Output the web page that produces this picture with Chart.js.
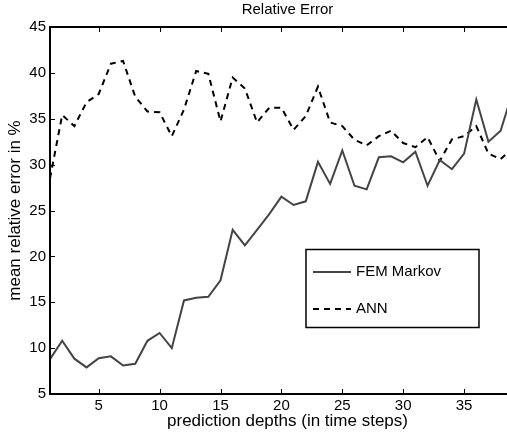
<!DOCTYPE html>
<html>
<head>
<meta charset="utf-8">
<title>Relative Error</title>
<script src="https://cdn.jsdelivr.net/npm/chart.js@4/dist/chart.umd.min.js"></script>
<style>
  html, body { margin: 0; padding: 0; background: #fff; overflow: hidden; }
  canvas { display: block; }
</style>
</head>
<body>
<canvas id="errorChart" width="540" height="438"></canvas>
<script>
'use strict';

// prediction depth (time steps) and mean relative error in %
var steps = [1, 2, 3, 4, 5, 6, 7, 8, 9, 10, 11, 12, 13, 14, 15, 16, 17, 18, 19, 20,
   21, 22, 23, 24, 25, 26, 27, 28, 29, 30, 31, 32, 33, 34, 35, 36, 37, 38, 39];
var femMarkov = [8.8, 10.8, 8.85, 7.9, 8.9, 9.1, 8.1, 8.3, 10.8, 11.65, 10.0, 15.2, 15.5, 15.6, 17.4, 22.9, 21.2, 22.9, 24.6, 26.5,
   25.6, 26.0, 30.3, 27.9, 31.55, 27.7, 27.3, 30.8, 30.9, 30.25, 31.4, 27.7, 30.5, 29.5, 31.2, 37.1, 32.5, 33.7, 38.0];
var ann = [28.5, 35.4, 34.2, 36.8, 37.7, 41.0, 41.3, 37.4, 35.8, 35.7, 33.1, 36.0, 40.2, 39.9, 34.7, 39.5, 38.3, 34.6, 36.2, 36.2,
   33.8, 35.3, 38.5, 34.6, 34.2, 32.7, 32.1, 33.1, 33.7, 32.35, 31.9, 33.0, 30.4, 32.75, 33.1, 34.2, 31.2, 30.6, 31.8];

var xTicks = [5, 10, 15, 20, 25, 30, 35, 40];
var yTicks = [5, 10, 15, 20, 25, 30, 35, 40, 45];

var fontFamily = '"Liberation Sans", Arial, Helvetica, sans-serif';

function toPoints(values) {
   return steps.map(function(s, i) {
      return { x: s, y: values[i] };
   });
}

// box, inward ticks, title and legend drawn the old matlab way
var matlabFrame = {
   id: 'matlabFrame',
   afterDraw: function(chart) {
      var ctx = chart.ctx;
      var area = chart.chartArea;
      var xs = chart.scales.x;
      var ys = chart.scales.y;
      var tick = 5;
      ctx.save();
      ctx.strokeStyle = '#000';
      ctx.lineWidth = 1;
      ctx.beginPath();
      xTicks.forEach(function(v) {
         var px = Math.round(xs.getPixelForValue(v)) + 0.5;
         ctx.moveTo(px, area.bottom);
         ctx.lineTo(px, area.bottom - tick);
         ctx.moveTo(px, area.top);
         ctx.lineTo(px, area.top + tick);
      });
      yTicks.forEach(function(v) {
         var py = Math.round(ys.getPixelForValue(v)) + 0.5;
         ctx.moveTo(area.left, py);
         ctx.lineTo(area.left + tick, py);
         ctx.moveTo(area.right, py);
         ctx.lineTo(area.right - tick, py);
      });
      ctx.stroke();

      ctx.lineWidth = 2;
      ctx.strokeRect(area.left, area.top, area.right - area.left, area.bottom - area.top);

      // title over the axes
      ctx.fillStyle = '#000';
      ctx.font = '15px ' + fontFamily;
      ctx.textAlign = 'center';
      ctx.textBaseline = 'middle';
      ctx.fillText('Relative Error', (area.left + area.right) / 2, 10);

      // legend box inside the plot
      var lx = 306, ly = 249.5, lw = 173, lh = 78;
      ctx.fillStyle = '#fff';
      ctx.fillRect(lx, ly, lw, lh);
      ctx.lineWidth = 1.5;
      ctx.strokeStyle = '#000';
      ctx.strokeRect(lx, ly, lw, lh);
      var rows = [272, 309];
      chart.data.datasets.forEach(function(ds, i) {
         ctx.beginPath();
         ctx.strokeStyle = ds.borderColor;
         ctx.lineWidth = ds.borderWidth;
         ctx.setLineDash(ds.borderDash || []);
         ctx.moveTo(313, rows[i]);
         ctx.lineTo(351, rows[i]);
         ctx.stroke();
         ctx.setLineDash([]);
         ctx.fillStyle = '#000';
         ctx.textAlign = 'left';
         ctx.fillText(ds.label, 356, rows[i]);
      });
      ctx.restore();
   }
};

var ctx = document.getElementById('errorChart');
var errorChart = new Chart(ctx, {
   type: 'line',
   data: {
      datasets: [{
         label: 'FEM Markov',
         data: toPoints(femMarkov),
         borderColor: '#444444',
         borderWidth: 2,
         pointRadius: 0,
         tension: 0,
         fill: false
      }, {
         label: 'ANN',
         data: toPoints(ann),
         borderColor: '#000000',
         borderWidth: 2,
         borderDash: [6, 5],
         pointRadius: 0,
         tension: 0,
         fill: false
      }]
   },
   options: {
      responsive: false,
      animation: false,
      layout: { padding: { top: 27, right: 15, left: 0, bottom: 0 } },
      plugins: {
         legend: { display: false },
         title: { display: false },
         tooltip: { enabled: false }
      },
      scales: {
         x: {
            type: 'linear',
            min: 1,
            max: 40,
            afterBuildTicks: function(scale) {
               scale.ticks = xTicks.map(function(v) { return { value: v }; });
            },
            afterFit: function(scale) { scale.height = 44; },
            grid: { display: false, drawTicks: false },
            border: { display: false },
            ticks: {
               color: '#000',
               padding: 3,
               maxRotation: 0,
               autoSkip: false,
               font: { family: fontFamily, size: 15 }
            },
            title: {
               display: true,
               text: 'prediction depths (in time steps)',
               color: '#000',
               padding: { top: 0, bottom: 6 },
               font: { family: fontFamily, size: 17 }
            }
         },
         y: {
            min: 5,
            max: 45,
            afterBuildTicks: function(scale) {
               scale.ticks = yTicks.map(function(v) { return { value: v }; });
            },
            afterFit: function(scale) { scale.width = 50; },
            grid: { display: false, drawTicks: false },
            border: { display: false },
            ticks: {
               color: '#000',
               padding: 4,
               autoSkip: false,
               font: { family: fontFamily, size: 15 }
            },
            title: {
               display: true,
               text: 'mean relative error in %',
               color: '#000',
               padding: { top: 5, bottom: 0 },
               font: { family: fontFamily, size: 17 }
            }
         }
      }
   },
   plugins: [matlabFrame]
});
</script>
</body>
</html>
